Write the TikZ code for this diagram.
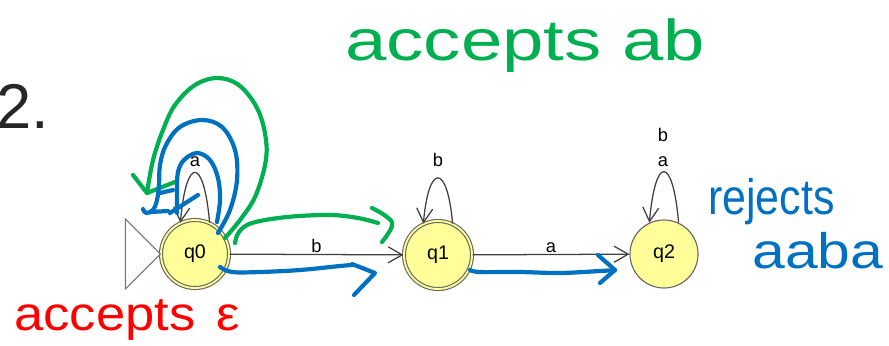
\documentclass[tikz,border=0pt]{standalone}
\usepackage{fontspec}
\setmainfont{Liberation Sans}
\usepackage{graphicx}
\usetikzlibrary{arrows.meta}
\definecolor{statefill}{RGB}{255,255,153}
\definecolor{inkgreen}{RGB}{0,176,80}
\definecolor{inkblue}{RGB}{0,112,192}
\definecolor{inkred}{RGB}{255,0,0}
\def\fs#1{\fontsize{#1}{#1}\selectfont}

\begin{document}
\begin{tikzpicture}[x=0.025cm, y=-0.025cm,
    >={Straight Barb[length=3.5mm, width=4mm]},
    state/.style={circle, draw=black!60, fill=statefill, line width=0.8pt,
        minimum size=1.7cm, inner sep=0pt, font=\fs{14}},
    final/.style={double=statefill, double distance=1.3pt},
    trans/.style={->, draw=black!75, line width=0.9pt},
    lbl/.style={font=\fs{13}, inner sep=1pt},
    ink/.style={line width=1.05mm, line cap=round, line join=round},
    hand/.style={inner sep=0pt, anchor=base west}]
    \useasboundingbox (0,0) rectangle (889,345);

    \node [hand, font=\fs{45}, text=black!85] (num) at (-4,128) {2.};

    \node [state, final] (q0) at (195,254) {q0};
    \node [state, final] (q1) at (438,255) {q1};
    \node [state] (q2) at (664,254) {q2};

    % start marker
    \draw [draw=black!55, fill=white, line width=0.8pt]
        (q0.west) -- ++(-35,-35) -- ++(0,70) -- cycle;

    \draw [trans] (q0) -- node [lbl, above] {b} (q1);
    \draw [trans] (q1) -- node [lbl, above] {a} (q2);

    \draw [trans] (q0.65) .. controls +(-95:67) and +(-85:67) .. (q0.115);
    \draw [trans] (q1.65) .. controls +(-95:61) and +(-85:61) .. (q1.115);
    \draw [trans] (q2.65) .. controls +(-95:68) and +(-85:68) .. (q2.115);
    \node [lbl] (la0) at (195,162) {a};
    \node [lbl] (lb1) at (438,160) {b};
    \node [lbl] (la2) at (663,162) {a};
    \node [lbl] (lb2) at (663,135) {b};

    % annotations
    \node [hand, font=\fs{41}, text=inkgreen] (acc) at (345,60)
        {\scalebox{1.29}[1]{accepts ab}};
    \node [hand, font=\fs{35.5}, text=inkblue] (rej) at (708,214)
        {\scalebox{0.86}[1]{rejects}};
    \node [hand, font=\fs{35.5}, text=inkblue] (rejw) at (752,268)
        {\scalebox{1.18}[1]{aaba}};
    \node [hand, font=\fs{34}, text=inkred] (eps) at (14,330)
        {\scalebox{1.1}[1]{accepts\hspace{0.4em}ε}};

    \coordinate (gTip) at (147,193);
    \coordinate (gEnd) at (392,226);
    \coordinate (bTip) at (375,273);
    \coordinate (cTip) at (615,270);

    \draw [ink, inkgreen] plot [smooth, tension=0.6] coordinates {(225,238) (240,220)
        (255,197) (265,165) (266,140) (258,110) (240,86) (218,78) (195,85) (175,105)
        (163,130) (153,160) (gTip)};
    \draw [ink, inkgreen] (133,175) -- (gTip) -- (175,182);
    \draw [ink, inkgreen] plot [smooth, tension=0.6] coordinates {(235,243) (239,232)
        (252,223) (287,217) (330,215) (358,218) (378,223)};
    \draw [ink, inkgreen] plot [smooth, tension=0.7] coordinates {(372,208) (387,217)
        (gEnd) (382,242)};

    \draw [ink, inkblue] plot [smooth, tension=0.6] coordinates {(218,233) (230,210)
        (237,180) (235,150) (222,127) (202,120) (180,127) (166,145) (160,165)
        (159,185) (157,200) (153,210) (146,213) (143,209)};
    \draw [ink, inkblue] plot [smooth, tension=0.6] coordinates {(217,222) (220,200)
        (218,178) (210,160) (197,153) (184,160) (178,172) (177,190) (177,213)};
    \draw [ink, inkblue] (170,213) -- (198,195);
    \draw [ink, inkblue] (160,193) -- (173,190);
    \draw [ink, inkblue] (150,212) -- (168,211);

    \draw [ink, inkblue] plot [smooth, tension=0.6] coordinates {(220,267) (232,272)
        (260,272) (300,270) (340,266) (352,265)};
    \draw [ink, inkblue] (352,264) -- (bTip) -- (354,295);
    \draw [ink, inkblue] plot [smooth, tension=0.6] coordinates {(470,270) (480,272)
        (520,272) (560,273) (600,271) (cTip)};
    \draw [ink, inkblue] (598,255) -- (cTip) -- (600,283);
\end{tikzpicture}
\end{document}
